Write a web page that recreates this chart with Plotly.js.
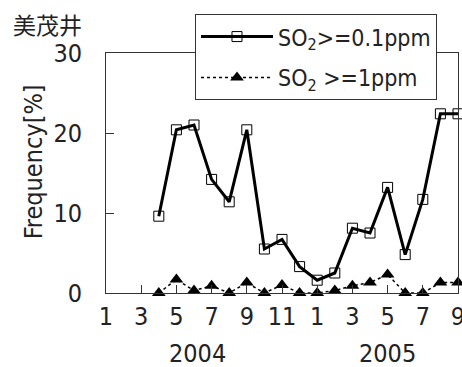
<!DOCTYPE html>
<html>
<head>
<meta charset="utf-8">
<script src="https://cdn.plot.ly/plotly-3.0.1.min.js"></script>
<style>html,body{margin:0;padding:0;background:#fff;}#chart{width:462px;height:367px;}</style>
</head>
<body>
<div id="chart"></div>
<script>
// Month index: 1 = Jan 2004 ... 21 = Sep 2005
var months = [4,5,6,7,8,9,10,11,12,13,14,15,16,17,18,19,20,21];
var so2Over01 = [9.6,20.4,21.0,14.2,11.4,20.4,5.5,6.7,3.3,1.6,2.5,8.1,7.5,13.2,4.8,11.7,22.4,22.4];
var so2Over1 = [0,1.7,0.3,0.9,0,1.3,0,1.0,0,0,0.3,0.9,1.3,2.3,0,0,1.3,1.3];
var tickVals = [1,3,5,7,9,11,13,15,17,19,21];
var tickText = ['1','3','5','7','9','11','1','3','5','7','9'];
var yearLabels = ['2004','2005'];
var yearPos = [6.2,17];
var stationName = '美茂井';
var seriesNames = ['SO<sub>2</sub>&gt;=0.1ppm','SO<sub>2</sub> &gt;=1ppm'];

var FONT = '"Liberation Sans Narrow","Arial Narrow","DejaVu Sans Condensed","Liberation Sans",sans-serif';
var FS = 25;
var INK = '#222';

var traces = [
  {x: months, y: so2Over01, name: seriesNames[0], type: 'scatter', mode: 'lines+markers',
   line: {color: '#000', width: 3}, cliponaxis: false, legendgroup: 'a',
   marker: {symbol: 'square-open', size: 10, color: '#000', line: {color: '#000', width: 1}}},
  {x: months, y: so2Over1, name: seriesNames[1], type: 'scatter', mode: 'lines+markers',
   line: {color: '#000', width: 1.5, dash: 'dot'}, cliponaxis: false, legendgroup: 'b',
   marker: {symbol: 'triangle-up', size: 12, color: '#000'}}
];

var annotations = [];
for (var i = 0; i < yearLabels.length; i++) {
  annotations.push({x: yearPos[i], xref: 'x', y: -0.251, yref: 'paper', text: yearLabels[i],
    showarrow: false, xanchor: 'center', yanchor: 'middle', borderpad: 0,
    font: {family: FONT, size: FS, color: INK}});
}
annotations.push({x: -0.207, xref: 'paper', y: 0.545, yref: 'paper', text: 'Frequency[%]', textangle: -90,
  showarrow: false, xanchor: 'center', yanchor: 'middle', borderpad: 0,
  font: {family: FONT, size: FS, color: INK}});
annotations.push({x: -0.267, xref: 'paper', y: 1.12, yref: 'paper', text: stationName,
  showarrow: false, xanchor: 'left', yanchor: 'middle', borderpad: 0,
  font: {family: '"Noto Sans CJK JP",sans-serif', size: 23, color: INK}});

var layout = {
  width: 462, height: 367,
  margin: {l: 106, r: 4, t: 53, b: 74, pad: 0},
  paper_bgcolor: '#fff', plot_bgcolor: '#fff',
  showlegend: true,
  legend: {x: 0.2528, xanchor: 'left', y: 1.162, yanchor: 'top', bgcolor: '#fff',
    bordercolor: '#333', borderwidth: 1, itemwidth: 72, tracegroupgap: 8, traceorder: 'grouped',
    font: {family: FONT, size: 23, color: INK}},
  xaxis: {range: [1, 21], tickvals: tickVals, ticktext: tickText, ticks: 'inside', ticklen: 8,
    tickcolor: '#333', showline: true, linecolor: '#333', linewidth: 1, mirror: true,
    showgrid: false, zeroline: false, ticklabelstandoff: 1, ticklabeloverflow: 'allow',
    tickfont: {family: FONT, size: FS, color: INK}},
  yaxis: {range: [0, 30], tickvals: [0,10,20,30], ticks: 'inside', ticklen: 8,
    tickcolor: '#333', showline: true, linecolor: '#333', linewidth: 1, mirror: true,
    showgrid: false, zeroline: false, ticklabelstandoff: 18,
    tickfont: {family: FONT, size: FS, color: INK}},
  annotations: annotations
};

Plotly.newPlot('chart', traces, layout, {displayModeBar: false, staticPlot: true});
</script>
</body>
</html>
